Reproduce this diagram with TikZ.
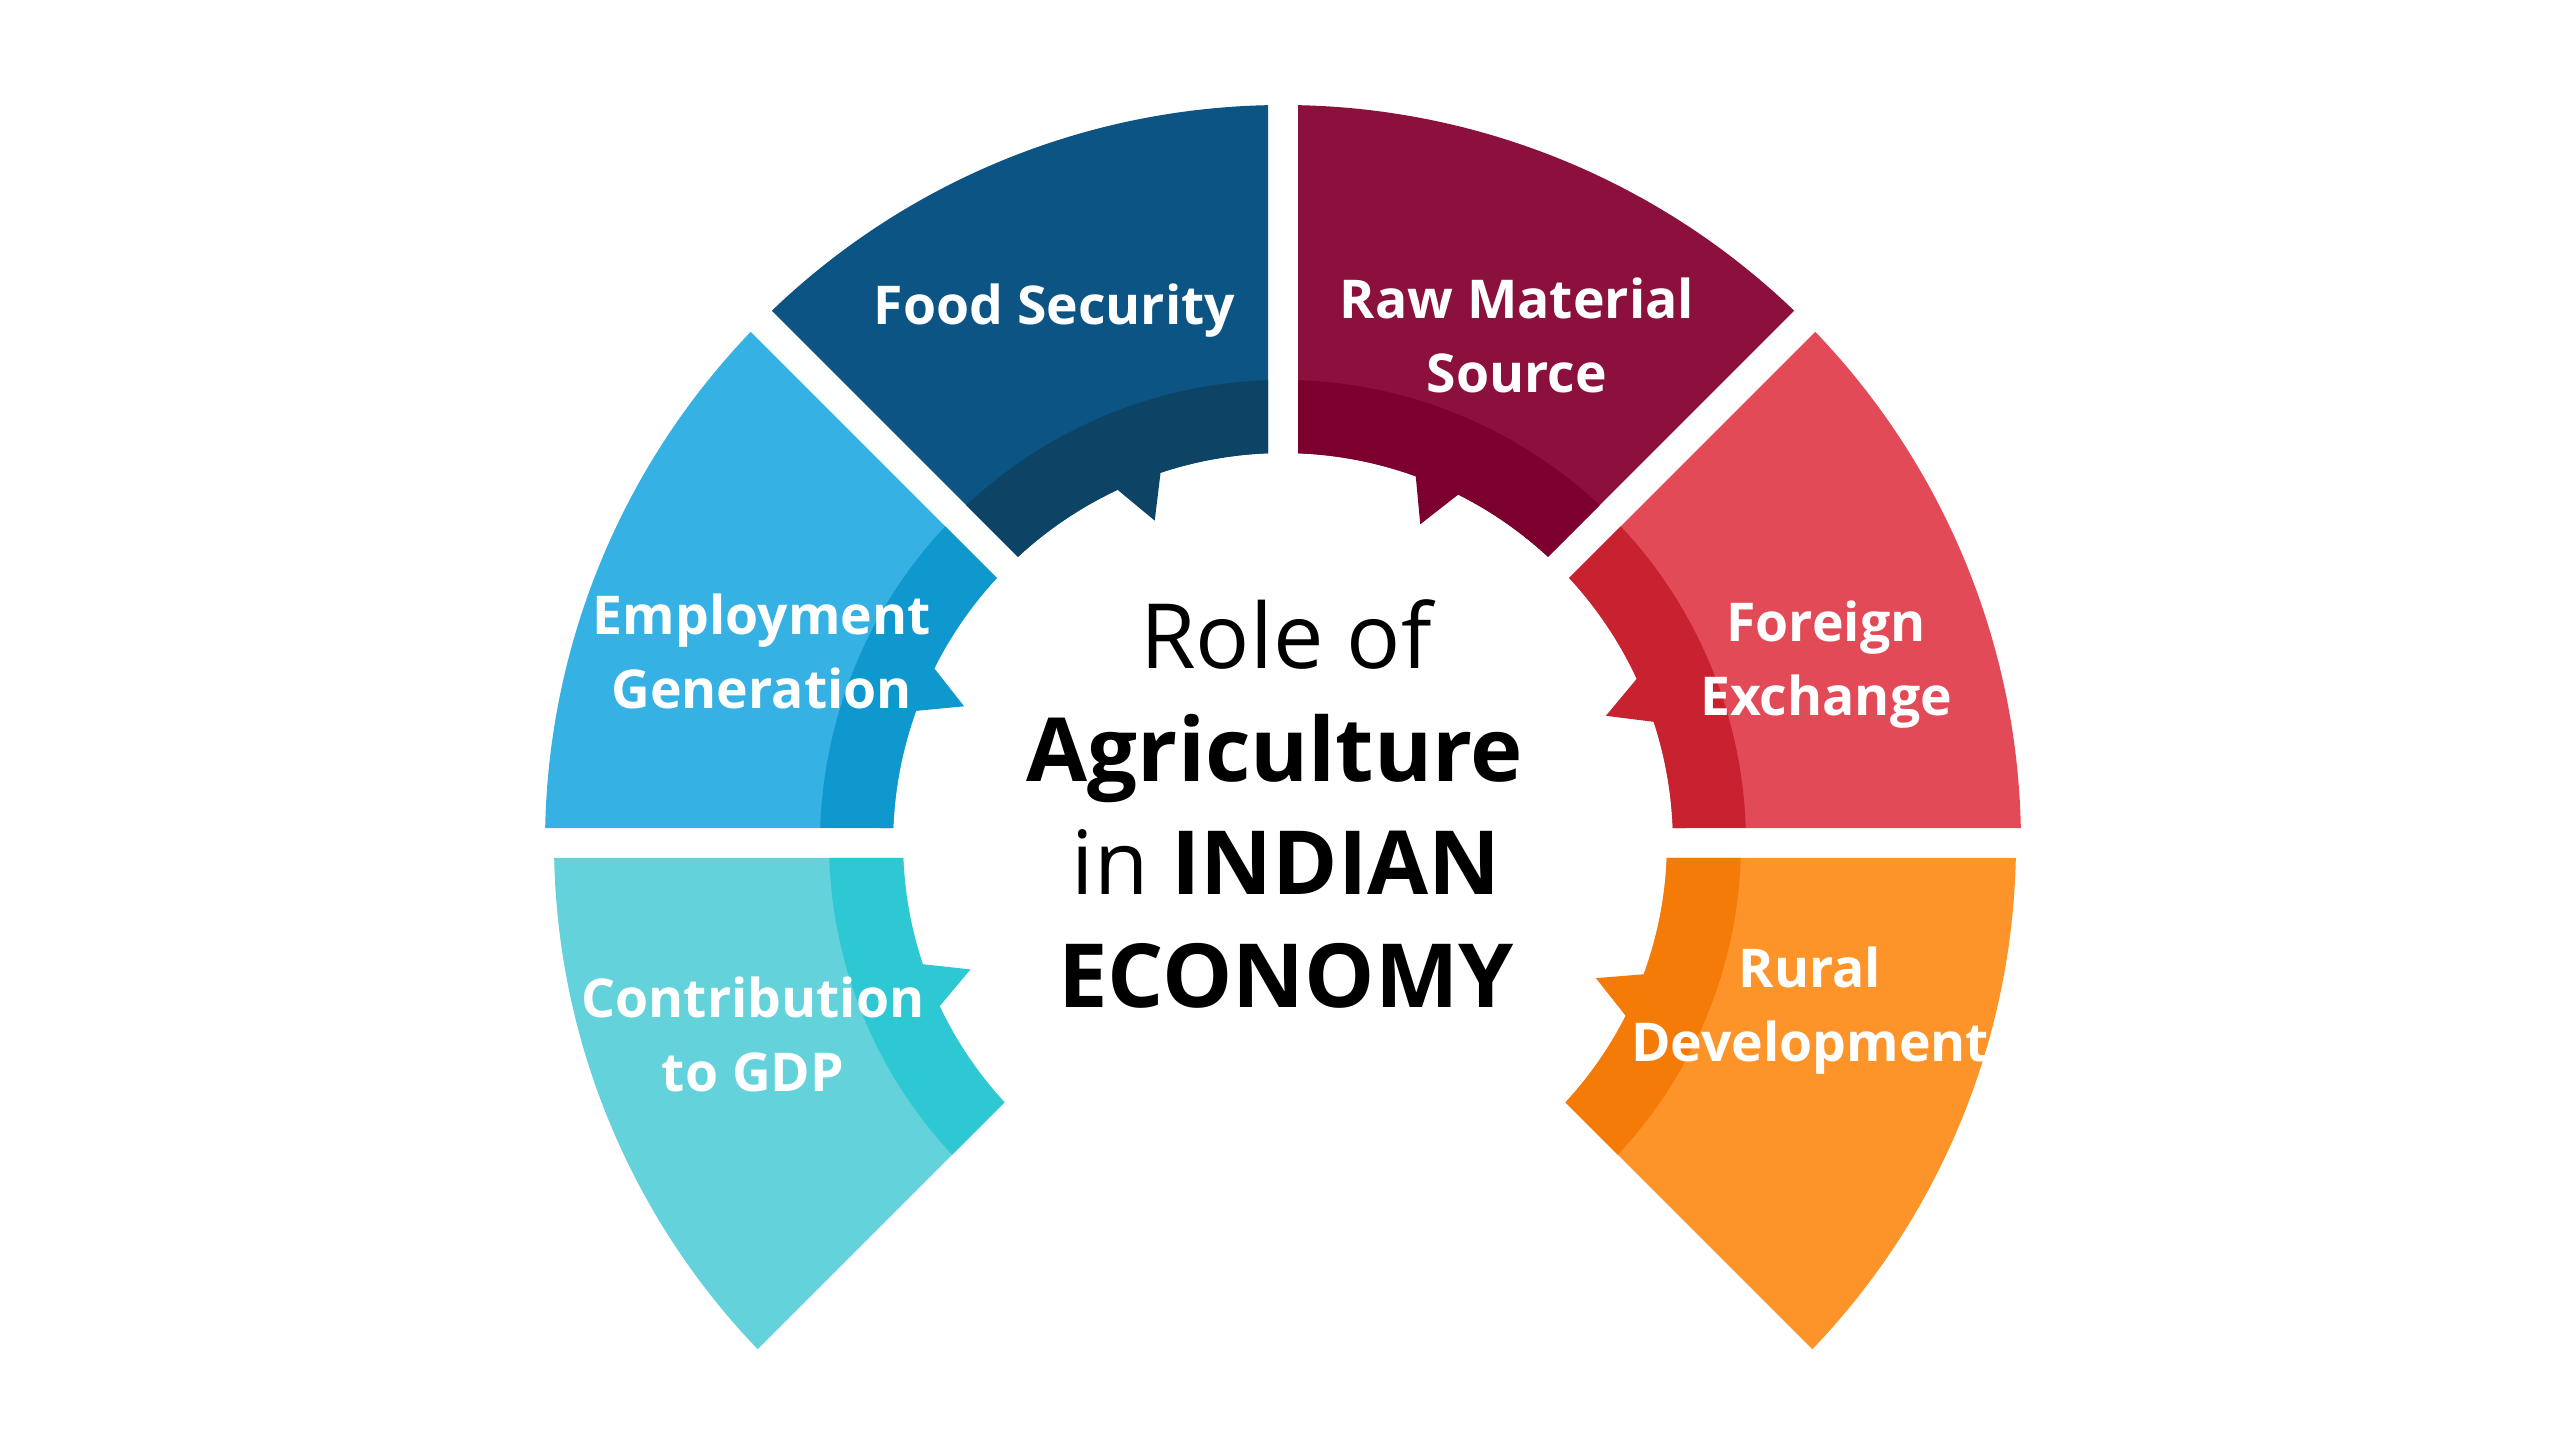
\documentclass[tikz,border=0pt]{standalone}
\usepackage{fontspec}
\setmainfont{Open Sans}
\definecolor{foodL}{HTML}{0B5483}\definecolor{foodD}{HTML}{0D4465}
\definecolor{rawL}{HTML}{8C103E}\definecolor{rawD}{HTML}{7B002F}
\definecolor{empL}{HTML}{36B1E3}\definecolor{empD}{HTML}{0E98CE}
\definecolor{gdpL}{HTML}{63D2DB}\definecolor{gdpD}{HTML}{2EC8D4}
\definecolor{forL}{HTML}{E34A57}\definecolor{forD}{HTML}{C82130}
\definecolor{rurL}{HTML}{FD9429}\definecolor{rurD}{HTML}{F57B08}
% #1 start angle, #2 end angle, #3 light colour, #4 dark colour, #5 tab angle
\newcommand\agsector[5]{%
  \pgfmathsetmacro\dO{asin(\gap/\Rout)}%
  \pgfmathsetmacro\dB{asin(\gap/\Rband)}%
  \pgfmathsetmacro\dI{asin(\gap/\Rin)}%
  \pgfmathsetmacro\aO{#1+\dO}\pgfmathsetmacro\bO{#2-\dO}%
  \pgfmathsetmacro\aB{#1+\dB}\pgfmathsetmacro\bB{#2-\dB}%
  \pgfmathsetmacro\aI{#1+\dI}\pgfmathsetmacro\bI{#2-\dI}%
  \pgfmathsetmacro\tA{#5+\tw}\pgfmathsetmacro\tB{#5-\tw}%
  \fill[#3] (\aO:\Rout) arc[start angle=\aO, end angle=\bO, radius=\Rout pt]
     -- (\bI:\Rin) arc[start angle=\bI, end angle=\aI, radius=\Rin pt] -- cycle;
  \fill[#4] (\aB:\Rband) arc[start angle=\aB, end angle=\bB, radius=\Rband pt]
     -- (\bI:\Rin) arc[start angle=\bI, end angle=\tA, radius=\Rin pt]
     -- (#5:\Rtip) -- (\tB:\Rin)
     arc[start angle=\tB, end angle=\aI, radius=\Rin pt] -- cycle;
}
\begin{document}
\begin{tikzpicture}[x=1pt,y=1pt,
  lab/.style={text=white, align=center, anchor=base, inner sep=0pt,
     font=\fontsize{53.5}{74}\selectfont\bfseries},
  title/.style={text=black, align=center, anchor=base, inner sep=0pt,
     font=\fontsize{88.5}{113}\selectfont}]
\fill[white] (0,0) rectangle (2560,1440);
\useasboundingbox (0,0) rectangle (2560,1440);
\def\gap{15}\def\tw{3.4}
% upper half
\begin{scope}[shift={(1283,597)}]
  \def\Rout{738}\def\Rband{463}\def\Rin{390}\def\Rtip{347}
  \agsector{0}{45}{forL}{forD}{21.5}
  \agsector{45}{90}{rawL}{rawD}{66.7}
  \agsector{90}{135}{foodL}{foodD}{111.7}
  \agsector{135}{180}{empL}{empD}{156.8}
\end{scope}
% lower half
\begin{scope}[shift={(1285,597)}]
  \def\Rout{731}\def\Rband{456}\def\Rin{382}\def\Rtip{339}
  \agsector{180}{225}{gdpL}{gdpD}{201.9}
  \agsector{-45}{0}{rurL}{rurD}{-23.5}
\end{scope}
% labels (anchor = baseline of the last line)
\node[lab] (food) at (1054.5,1115) {Food Security};
\node[lab] (raw) at (1517,1047) {Raw Material\\Source};
\node[lab] (emp) at (761.7,731) {Employment\\Generation};
\node[lab] (forex) at (1826,724) {Foreign\\Exchange};
\node[lab] (gdp) at (753,348) {Contribution\\to GDP};
\node[lab] (rural) at (1810,378) {Rural\\Development};
% title
\node[title] (ttl) at (1286,432) {{\fontsize{90}{113}\selectfont Role of}\\
  {\bfseries Agriculture}\kern22pt\\ in {\bfseries INDIAN}\\ {\bfseries ECONOMY}};
\end{tikzpicture}
\end{document}
